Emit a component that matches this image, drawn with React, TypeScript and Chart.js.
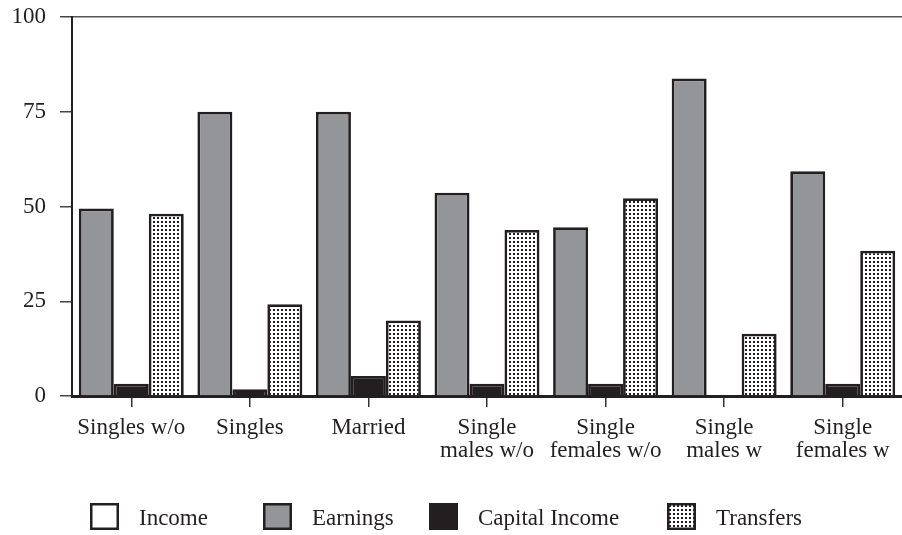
import React, { useEffect, useRef } from "react";
import { Chart, registerables } from "chart.js";

Chart.register(...registerables);

const categories: (string | string[])[] = [
  "Singles w/o",
  "Singles",
  "Married",
  ["Single", "males w/o"],
  ["Single", "females w/o"],
  ["Single", "males w"],
  ["Single", "females w"],
];

const earnings = [49.5, 75, 75, 53.6, 44.5, 83.8, 59.3];
const capitalIncome = [3.2, 1.8, 5.3, 3.2, 3.2, 0, 3.2];
const transfers = [48.1, 24.2, 19.9, 43.8, 52.2, 16.4, 38.3];

const yTicks = [0, 25, 50, 75, 100];

const legendLabels = ["Income", "Earnings", "Capital Income", "Transfers"];
const legendBoxX = [90, 263, 429, 667];

const INK = "#231f20";
const GRAY = "#939598";
const FONT = '"Liberation Serif", "Times New Roman", serif';

function makeDots(): CanvasPattern | string {
  const c = document.createElement("canvas");
  c.width = 4;
  c.height = 4;
  const g = c.getContext("2d");
  if (!g) return "#fff";
  g.fillStyle = "#ffffff";
  g.fillRect(0, 0, 4, 4);
  g.fillStyle = INK;
  g.fillRect(1, 1, 2, 2);
  return g.createPattern(c, "repeat") || "#fff";
}

export default function App() {
  const ref = useRef<HTMLCanvasElement>(null);

  useEffect(() => {
    document.body.style.margin = "0";
    const canvas = ref.current;
    if (!canvas) return;
    const dots = makeDots();
    const fills = ["#ffffff", GRAY, INK, dots];

    const legendPlugin = {
      id: "customLegend",
      afterDraw(chart: any) {
        const ctx = chart.ctx as CanvasRenderingContext2D;
        ctx.save();
        ctx.font = `23px ${FONT}`;
        ctx.textBaseline = "middle";
        const boxW = 29;
        const boxH = 27;
        const cy = chart.height - 18.5;
        legendLabels.forEach((label, i) => {
          const x = legendBoxX[i];
          ctx.fillStyle = fills[i] as any;
          ctx.fillRect(x, cy - boxH / 2, boxW, boxH);
          ctx.lineWidth = 2.5;
          ctx.strokeStyle = INK;
          ctx.strokeRect(x + 1.25, cy - boxH / 2 + 1.25, boxW - 2.5, boxH - 2.5);
          ctx.fillStyle = INK;
          ctx.fillText(label, x + boxW + 20, cy + 2);
        });
        ctx.restore();
      },
    };

    const chart = new Chart(canvas, {
      type: "bar",
      data: {
        labels: categories as any,
        datasets: [
          {
            label: "Earnings",
            data: earnings,
            backgroundColor: GRAY,
            borderColor: INK,
            borderWidth: 2.75,
          },
          {
            label: "Capital Income",
            data: capitalIncome,
            backgroundColor: INK,
            borderColor: INK,
            borderWidth: 2.75,
          },
          {
            label: "Transfers",
            data: transfers,
            backgroundColor: dots as any,
            borderColor: INK,
            borderWidth: 2.75,
          },
        ],
      },
      options: {
        animation: false,
        responsive: true,
        maintainAspectRatio: false,
        layout: { padding: { top: 17, right: -2, bottom: 0, left: 0 } },
        datasets: {
          bar: { categoryPercentage: 0.885, barPercentage: 1.0 },
        },
        plugins: {
          legend: { display: false },
          tooltip: { enabled: false },
        },
        scales: {
          x: {
            offset: true,
            afterFit: (scale: any) => {
              scale.height = 139;
              scale.paddingLeft = 0;
              scale.paddingRight = 0;
            },
            grid: {
              display: true,
              drawOnChartArea: false,
              drawTicks: true,
              offset: false,
              tickLength: 11,
              color: "#333333",
              lineWidth: 1.5,
            },
            border: { display: true, color: INK, width: 3 },
            ticks: {
              autoSkip: false,
              maxRotation: 0,
              minRotation: 0,
              padding: 9,
              color: INK,
              font: { family: FONT, size: 23, lineHeight: 1.0 },
            },
          },
          y: {
            min: 0,
            max: 100,
            afterFit: (scale: any) => {
              scale.width = 72;
              scale.paddingTop = 0;
              scale.paddingBottom = 0;
            },
            afterBuildTicks: (scale: any) => {
              scale.ticks = yTicks.map((v) => ({ value: v }));
            },
            grid: {
              display: true,
              drawOnChartArea: true,
              drawTicks: true,
              tickLength: 12,
              color: (ctx: any) =>
                ctx.tick && ctx.tick.value === 100 ? "#555555" : "rgba(0,0,0,0)",
              tickColor: "#444444",
              lineWidth: 1.5,
            },
            border: { display: true, color: INK, width: 2 },
            ticks: {
              padding: 14,
              color: INK,
              font: { family: FONT, size: 23 },
            },
          },
        },
      },
      plugins: [legendPlugin],
    });

    return () => chart.destroy();
  }, []);

  return (
    <div style={{ position: "relative", width: 902, height: 535, background: "#fff" }}>
      <canvas ref={ref} />
    </div>
  );
}
